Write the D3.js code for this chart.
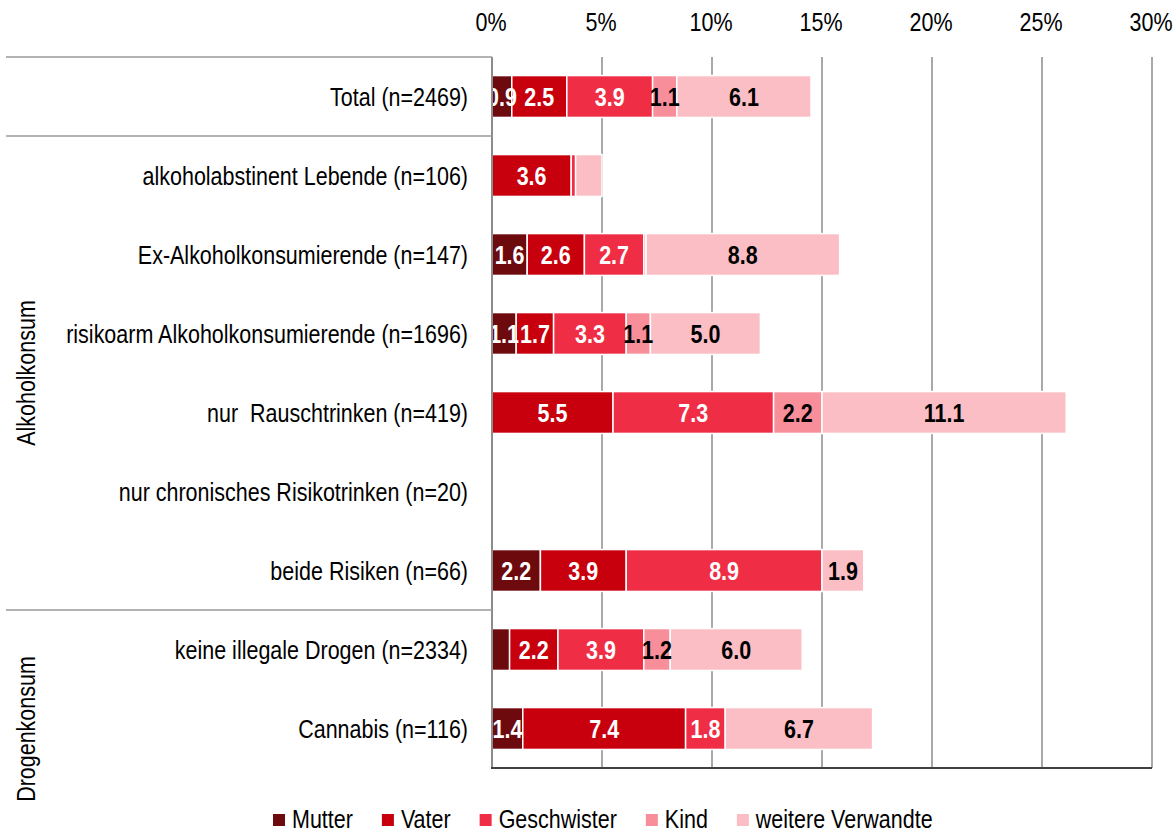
<!DOCTYPE html>
<html>
<head>
<meta charset="utf-8">
<script src="https://cdn.jsdelivr.net/npm/d3@7"></script>
<style>
  body { margin: 0; background: #fff; }
  svg text { font-family: "Liberation Sans", Arial, sans-serif; white-space: pre; }
</style>
</head>
<body>
<div id="chart"></div>
<script>
// categories (top to bottom)
var categories = [
    "Total (n=2469)",
    "alkoholabstinent Lebende (n=106)",
    "Ex-Alkoholkonsumierende (n=147)",
    "risikoarm Alkoholkonsumierende (n=1696)",
    "nur  Rauschtrinken (n=419)",
    "nur chronisches Risikotrinken (n=20)",
    "beide Risiken (n=66)",
    "keine illegale Drogen (n=2334)",
    "Cannabis (n=116)"
];

var seriesNames = ["Mutter", "Vater", "Geschwister", "Kind", "weitere Verwandte"];

// values in percent, one array per series
var mutter      = [0.9, 0.0, 1.6, 1.1, 0.0, 0, 2.2, 0.8, 1.4];
var vater       = [2.5, 3.6, 2.6, 1.7, 5.5, 0, 3.9, 2.2, 7.4];
var geschwister = [3.9, 0.2, 2.7, 3.3, 7.3, 0, 8.9, 3.9, 1.8];
var kind        = [1.1, 0.0, 0.1, 1.1, 2.2, 0, 0.0, 1.2, 0.0];
var weitere     = [6.1, 1.2, 8.8, 5.0, 11.1, 0, 1.9, 6.0, 6.7];

// labels that are not printed in the original: [row, series]
var hiddenLabels = [[1, 2], [1, 4], [2, 3], [7, 0]];

var groups = [
    { label: "Alkoholkonsum", first: 1, last: 6 },
    { label: "Drogenkonsum", first: 7, last: 8 }
];

var xTicks = [0, 5, 10, 15, 20, 25, 30];

var colors = ["#6d0a0e", "#c8000d", "#ef2e46", "#f78e9a", "#fbbec5"];
var labelColors = ["#fff", "#fff", "#fff", "#000", "#000"];

var width = 1176, height = 832,
    plotLeft = 492, plotRight = 1152, plotTop = 57, plotBottom = 768,
    narrow = 0.86; // fake a narrow font by squeezing horizontally

var svg = d3.select("#chart").append("svg")
    .attr("width", width)
    .attr("height", height);

// place a text at (x, y) and squeeze it horizontally
function place(sel, fx, fy, extra) {
    sel.attr("transform", function(d, i) {
        return "translate(" + fx(d, i) + "," + fy(d, i) + ")" + (extra || "") +
            " scale(" + narrow + ",1)";
    });
}

var rows = categories.map(function(c, i) {
    return { cat: c, Mutter: mutter[i], Vater: vater[i], Geschwister: geschwister[i],
             Kind: kind[i], "weitere Verwandte": weitere[i] };
});

var layers = d3.stack().keys(seriesNames)(rows);

var x = d3.scaleLinear().domain([0, 30]).range([plotLeft, plotRight]);
var y = d3.scaleBand().domain(categories).range([plotTop, plotBottom])
    .paddingInner(0.47).paddingOuter(0.235);

var gap = (y.step() - y.bandwidth()) / 2;

// gridlines
svg.append("g").selectAll("line")
    .data(xTicks.slice(1))
    .enter().append("line")
    .attr("x1", function(d) { return x(d); })
    .attr("x2", function(d) { return x(d); })
    .attr("y1", plotTop)
    .attr("y2", plotBottom)
    .attr("stroke", "#8c8c8c")
    .attr("stroke-width", 1.5);

// tick labels on top
svg.append("g").selectAll("text")
    .data(xTicks)
    .enter().append("text")
    .attr("text-anchor", "middle")
    .attr("font-size", 25)
    .attr("fill", "#000")
    .text(function(d) { return d + "%"; })
    .call(place, function(d) { return x(d) - 1; }, function() { return 31; });

// bars
var layer = svg.append("g").selectAll("g")
    .data(layers)
    .enter().append("g")
    .attr("fill", function(d, i) { return colors[i]; });

layer.selectAll("rect")
    .data(function(d) { return d.filter(function(p) { return p[1] - p[0] > 0; }); })
    .enter().append("rect")
    .attr("x", function(d) { return x(d[0]); })
    .attr("y", function(d) { return y(d.data.cat); })
    .attr("width", function(d) { return x(d[1]) - x(d[0]); })
    .attr("height", y.bandwidth())
    .attr("stroke", "#fff")
    .attr("stroke-width", 1.5);

// value labels
function isHidden(r, s) {
    return hiddenLabels.some(function(h) { return h[0] === r && h[1] === s; });
}
layers.forEach(function(l, s) {
    svg.append("g").selectAll("text")
        .data(l.map(function(d, r) { return { d: d, r: r }; })
            .filter(function(o) { return o.d[1] - o.d[0] > 0 && !isHidden(o.r, s); }))
        .enter().append("text")
        .attr("dy", "0.36em")
        .attr("text-anchor", "middle")
        .attr("font-size", 25)
        .attr("font-weight", "bold")
        .attr("fill", labelColors[s])
        .text(function(o) { return (o.d[1] - o.d[0]).toFixed(1); })
        .call(place,
            function(o) { return (x(o.d[0]) + x(o.d[1])) / 2; },
            function(o) { return y(o.d.data.cat) + y.bandwidth() / 2; });
});

// category axis line
svg.append("line")
    .attr("x1", plotLeft).attr("x2", plotLeft)
    .attr("y1", plotTop).attr("y2", plotBottom)
    .attr("stroke", "#8c8c8c")
    .attr("stroke-width", 2);

// bottom line
svg.append("line")
    .attr("x1", plotLeft - 1).attr("x2", plotRight)
    .attr("y1", plotBottom).attr("y2", plotBottom)
    .attr("stroke", "#404040")
    .attr("stroke-width", 2);

// category labels
svg.append("g").selectAll("text")
    .data(categories)
    .enter().append("text")
    .attr("dy", "0.36em")
    .attr("text-anchor", "end")
    .attr("font-size", 25)
    .attr("fill", "#000")
    .text(function(d) { return d; })
    .call(place, function() { return 468; },
        function(d) { return y(d) + y.bandwidth() / 2; });

// group separators
var sepRows = [0, 1, 7];
svg.append("g").selectAll("line")
    .data(sepRows)
    .enter().append("line")
    .attr("x1", 6).attr("x2", plotLeft)
    .attr("y1", function(r) { return y(categories[r]) - gap; })
    .attr("y2", function(r) { return y(categories[r]) - gap; })
    .attr("stroke", "#9a9a9a")
    .attr("stroke-width", 1.5);

// group labels
svg.append("g").selectAll("text")
    .data(groups)
    .enter().append("text")
    .attr("text-anchor", "middle")
    .attr("font-size", 25)
    .attr("fill", "#000")
    .text(function(g) { return g.label; })
    .call(place, function() { return 35; }, function(g, i) {
        var y0 = y(categories[g.first]) - gap;
        var y1 = y(categories[g.last]) + y.bandwidth() + gap;
        return (y0 + y1) / 2 + (i === 1 ? 40 : 0);
    }, " rotate(-90)");

// legend
var legend = svg.append("g").attr("transform", "translate(273,819)");
var lx = 0;
seriesNames.forEach(function(name, i) {
    var item = legend.append("g").attr("transform", "translate(" + lx + ",0)");
    item.append("rect")
        .attr("x", 0).attr("y", -5)
        .attr("width", 12).attr("height", 12)
        .attr("fill", colors[i]);
    var t = item.append("text")
        .attr("dy", "0.36em")
        .attr("font-size", 25)
        .attr("fill", "#000")
        .attr("transform", "translate(19,0) scale(" + narrow + ",1)")
        .text(name);
    lx += 19 + t.node().getComputedTextLength() * narrow + 29;
});
</script>
</body>
</html>
